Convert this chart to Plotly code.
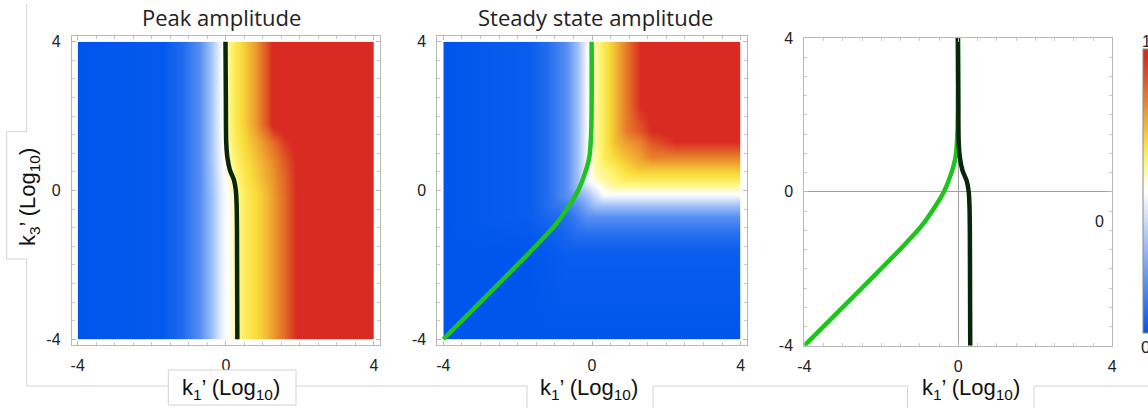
import plotly.graph_objects as go

W, H = 1148, 408

# ---------------- data ----------------
# Panel 1: peak amplitude (normalised 0..1) on a node grid
p1_x = [-4, -1.7, -1.2, -0.7, -0.4, -0.1, 0.1, 0.3, 0.5, 0.8, 1.1, 1.3, 1.6, 2.0, 4]
p1_y = [-4, -0.2, 0.3, 0.8, 1.3, 1.8, 4]
p1_z = [
    [0, .01, .06, .17, .30, .46, .52, .58, .63, .67, .73, .78, .86, 1, 1],
    [0, .01, .06, .17, .30, .46, .52, .58, .63, .67, .73, .78, .86, 1, 1],
    [0, .01, .06, .17, .31, .47, .54, .60, .64, .69, .75, .79, .87, 1, 1],
    [0, .01, .06, .17, .32, .49, .57, .62, .66, .71, .77, .81, .89, 1, 1],
    [0, .01, .06, .17, .32, .50, .59, .64, .68, .74, .81, .86, .95, 1, 1],
    [0, .01, .06, .17, .32, .50, .60, .65, .70, .78, .90, 1, 1, 1, 1],
    [0, .01, .06, .17, .32, .50, .60, .65, .70, .78, .90, 1, 1, 1, 1],
]

# Panel 2: steady state amplitude (normalised 0..1)
p2_x = [-4, -1.7, -1.2, -0.7, -0.4, -0.15, 0.1, 0.3, 0.6, 0.9, 1.3, 1.6, 2.3, 4]
p2_y = [-4, -1.7, -1.2, -0.7, -0.4, -0.15, 0.1, 0.3, 0.6, 0.9, 1.3, 1.6, 2.3, 4]
p2_z = [
    [0, 0, 0, 0, 0, 0, 0, 0, 0, 0, 0, 0, 0, 0],
    [0, 0, .01, .02, .02, .02, .02, .02, .02, .02, .02, .02, .02, .02],
    [0, .01, .02, .05, .07, .07, .07, .07, .07, .07, .07, .07, .07, .07],
    [0, .02, .05, .07, .12, .17, .17, .17, .17, .17, .17, .17, .17, .17],
    [0, .02, .07, .12, .17, .24, .31, .31, .31, .31, .31, .31, .31, .31],
    [0, .02, .07, .17, .24, .31, .40, .48, .48, .48, .48, .48, .48, .48],
    [0, .02, .07, .17, .31, .40, .48, .53, .57, .57, .57, .57, .57, .57],
    [0, .02, .07, .17, .31, .48, .53, .57, .60, .63, .63, .63, .63, .63],
    [0, .02, .07, .17, .31, .48, .57, .60, .63, .675, .72, .72, .72, .72],
    [0, .02, .07, .17, .31, .48, .57, .63, .675, .72, .77, .82, .82, .82],
    [0, .02, .07, .17, .31, .48, .57, .63, .72, .77, .82, .895, .97, .97],
    [0, .02, .07, .17, .31, .48, .57, .63, .72, .82, .895, .97, .985, 1],
    [0, .02, .07, .17, .31, .48, .57, .63, .72, .82, .97, .985, 1, 1],
    [0, .02, .07, .17, .31, .48, .57, .63, .72, .82, .97, 1, 1, 1],
]

# Curves (log10 k1' vs log10 k3')
black_x = [0.31, 0.30, 0.29, 0.27, 0.22, 0.11, 0.04, 0.01, 0.0, -0.01]
black_y = [-4, -1, -0.35, 0.0, 0.28, 0.55, 0.9, 1.3, 2.5, 4]
green_x = [-4, -1.44, -0.95, -0.64, -0.37, -0.19, -0.07, -0.02, -0.01]
green_y = [-4, -1.42, -0.88, -0.44, 0.01, 0.46, 0.91, 1.63, 4]

titles = ["Peak amplitude", "Steady state amplitude"]
tick_vals = [-4, 0, 4]
tick_text = ["-4", "0", "4"]
cbar_labels = ["1", "0"]

# ---------------- helpers ----------------
def fx(px):
    return px / W

def fy(py):
    return 1 - py / H

colorscale = [
    [0.0, "rgb(0,86,236)"],
    [0.5, "rgb(255,255,255)"],
    [0.6, "rgb(255,246,120)"],
    [0.67, "rgb(250,222,60)"],
    [0.82, "rgb(232,128,42)"],
    [0.97, "rgb(217,43,34)"],
    [1.0, "rgb(217,43,34)"],
]

BLACK = "rgb(8,38,10)"
GREEN = "rgb(28,196,28)"
TICKFONT = dict(family="Liberation Sans, Arial", size=16, color="#222")
FRAME = "#b8b8b8"

fig = go.Figure()

fig.add_trace(go.Heatmap(x=p1_x, y=p1_y, z=p1_z, coloraxis="coloraxis",
                         zsmooth="best", xaxis="x", yaxis="y", hoverinfo="skip"))
fig.add_trace(go.Scatter(x=black_x, y=black_y, mode="lines", xaxis="x2", yaxis="y2",
                         line=dict(color=BLACK, width=4.5, shape="spline", smoothing=0.8),
                         showlegend=False))
fig.add_trace(go.Heatmap(x=p2_x, y=p2_y, z=p2_z, coloraxis="coloraxis",
                         zsmooth="best", xaxis="x3", yaxis="y3", hoverinfo="skip"))
fig.add_trace(go.Scatter(x=green_x, y=green_y, mode="lines", xaxis="x4", yaxis="y4",
                         line=dict(color=GREEN, width=4.5, shape="spline", smoothing=0.8),
                         showlegend=False))
fig.add_trace(go.Scatter(x=green_x, y=green_y, mode="lines", xaxis="x5", yaxis="y5",
                         line=dict(color=GREEN, width=4.5, shape="spline", smoothing=0.8),
                         showlegend=False))
fig.add_trace(go.Scatter(x=black_x, y=black_y, mode="lines", xaxis="x5", yaxis="y5",
                         line=dict(color=BLACK, width=4.5, shape="spline", smoothing=0.8),
                         showlegend=False))

def hidden(dom, anchor):
    return dict(domain=dom, range=[-4, 4], visible=False, anchor=anchor, fixedrange=True)

def frame(dom, anchor, rng, zl=False, standoff=6):
    return dict(domain=dom, range=rng, anchor=anchor, showgrid=False,
                zeroline=zl, zerolinecolor="#a0a0a0", zerolinewidth=1,
                showline=True, linecolor=FRAME, linewidth=1, mirror="allticks",
                ticks="inside", ticklen=4, tickcolor=FRAME,
                tickmode="array", tickvals=tick_vals, ticktext=tick_text,
                tickfont=TICKFONT, ticklabelstandoff=standoff,
                minor=dict(tickmode="linear", tick0=-4, dtick=0.5, ticks="inside",
                           ticklen=3, tickcolor="#c8c8c8"))

pad = 0.16
p1_hx, p1_hy = (77.7, 374.0), (41.7, 339.3)
p1_fx, p1_fy = (71.8, 379.9), (35.8, 345.2)
p2_hx, p2_hy = (443.3, 740.7), (41.7, 339.3)
p2_fx, p2_fy = (437.4, 746.6), (35.8, 345.2)
p3_fx, p3_fy = (804.3, 1112.3), (38.0, 345.7)

def dx(a):
    return [fx(a[0]), fx(a[1])]

def dy(a):
    return [fy(a[1]), fy(a[0])]

fig.update_layout(
    xaxis=hidden(dx(p1_hx), "y"), yaxis=hidden(dy(p1_hy), "x"),
    xaxis2=frame(dx(p1_fx), "y2", [-4 - pad, 4 + pad]),
    yaxis2=frame(dy(p1_fy), "x2", [-4 - pad, 4 + pad], standoff=7),
    xaxis3=hidden(dx(p2_hx), "y3"), yaxis3=hidden(dy(p2_hy), "x3"),
    xaxis4=frame(dx(p2_fx), "y4", [-4 - pad, 4 + pad]),
    yaxis4=frame(dy(p2_fy), "x4", [-4 - pad, 4 + pad], standoff=7),
    xaxis5=frame(dx(p3_fx), "y5", [-4, 4], zl=True),
    yaxis5=frame(dy(p3_fy), "x5", [-4, 4], zl=True, standoff=7),
)

fig.update_layout(
    width=W, height=H,
    margin=dict(l=0, r=0, t=0, b=0, autoexpand=False),
    paper_bgcolor="white", plot_bgcolor="rgba(0,0,0,0)",
    showlegend=False,
    coloraxis=dict(
        colorscale=colorscale, cmin=0, cmax=1,
        colorbar=dict(x=fx(1143.3), xanchor="left", xpad=0, ypad=0,
                      y=fy(191.3), yanchor="middle", len=(333.3 - 49.3) / H,
                      lenmode="fraction", thickness=16,
                      outlinewidth=1, outlinecolor="#8a8a8a",
                      showticklabels=False, ticks=""),
    ),
)

# ---------------- decoration lines (gray frame of the composite) ----------------
LC = "#d4d4d4"

def path(points):
    s = "M {} {}".format(fx(points[0][0]), fy(points[0][1]))
    for p in points[1:]:
        s += " L {} {}".format(fx(p[0]), fy(p[1]))
    return s

shapes = []
paths = [
    [(26.7, 4), (26.7, 131.7), (6.7, 131.7), (6.7, 259), (26.7, 259), (26.7, 386), (168.3, 386)],
    [(296, 386), (527, 386)],
    [(527, 408), (527, 386)],
    [(653, 386), (653, 408)],
    [(653, 386), (907.5, 386)],
    [(907.5, 408), (907.5, 386)],
    [(1034, 386), (1034, 408)],
    [(1034, 386), (1148, 386)],
]
for pts in paths:
    shapes.append(dict(type="path", xref="paper", yref="paper", path=path(pts),
                       line=dict(color=LC, width=1)))
shapes.append(dict(type="rect", xref="paper", yref="paper",
                   x0=fx(168.3), x1=fx(296), y0=fy(405), y1=fy(370),
                   line=dict(color=LC, width=1), fillcolor="white"))
fig.update_layout(shapes=shapes)

# ---------------- text ----------------
ann = []
TFONT = dict(family="Open Sans, Noto Sans", size=22, color="#222")
ann.append(dict(text=titles[0], x=fx(221), y=fy(17), showarrow=False,
                xref="paper", yref="paper", font=TFONT, xanchor="center", yanchor="middle"))
ann.append(dict(text=titles[1], x=fx(595), y=fy(17), showarrow=False,
                xref="paper", yref="paper", font=TFONT, xanchor="center", yanchor="middle"))
LFONT = dict(family="Liberation Sans, Arial", size=22, color="#111")
xlabel = "k<sub>1</sub>’ (Log<sub>10</sub>)"
ylabel = "k<sub>3</sub>’ (Log<sub>10</sub>)"
for cx in (231, 589, 971):
    ann.append(dict(text=xlabel, x=fx(cx), y=fy(389), showarrow=False,
                    xref="paper", yref="paper", font=LFONT,
                    xanchor="center", yanchor="middle"))
ann.append(dict(text=ylabel, x=fx(29), y=fy(197), showarrow=False, textangle=-90,
                xref="paper", yref="paper", font=LFONT,
                xanchor="center", yanchor="middle"))
ann.append(dict(text="0", x=fx(1099), y=fy(222), showarrow=False,
                xref="paper", yref="paper", font=TICKFONT,
                xanchor="center", yanchor="middle"))
ann.append(dict(text=cbar_labels[0], x=fx(1140), y=fy(42), showarrow=False,
                xref="paper", yref="paper", font=TICKFONT,
                xanchor="left", yanchor="middle"))
ann.append(dict(text=cbar_labels[1], x=fx(1139), y=fy(347), showarrow=False,
                xref="paper", yref="paper", font=dict(family="Liberation Sans, Arial", size=17, color="#222"),
                xanchor="left", yanchor="middle"))
fig.update_layout(annotations=ann)

fig.write_html("out.html")
